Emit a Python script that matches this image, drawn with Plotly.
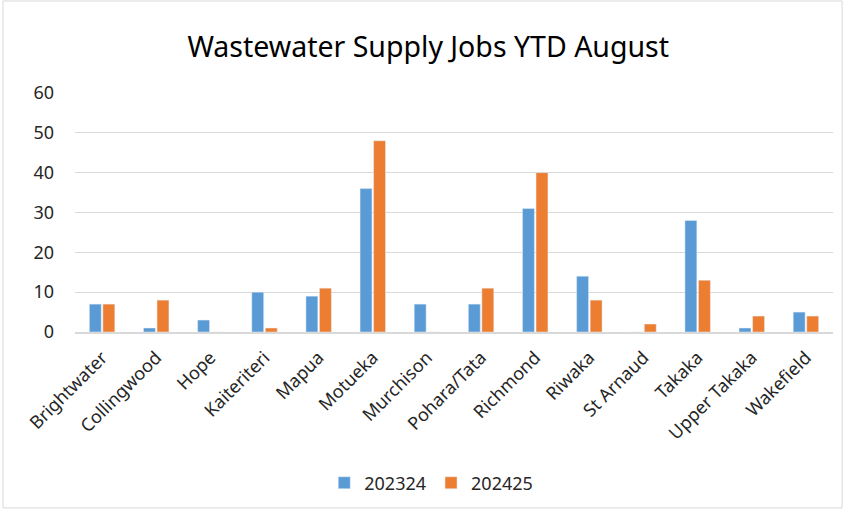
import plotly.graph_objects as go

towns = ["Brightwater", "Collingwood", "Hope", "Kaiteriteri", "Mapua", "Motueka",
         "Murchison", "Pohara/Tata", "Richmond", "Riwaka", "St Arnaud", "Takaka",
         "Upper Takaka", "Wakefield"]
jobs_202324 = [7, 1, 3, 10, 9, 36, 7, 7, 31, 14, 0, 28, 1, 5]
jobs_202425 = [7, 8, 0, 1, 11, 48, 0, 11, 40, 8, 2, 13, 4, 4]

font_family = "Noto Sans, Liberation Sans, sans-serif"

fig = go.Figure()
fig.add_trace(go.Bar(x=towns, y=jobs_202324, name="202324", marker_color="#5b9bd5"))
fig.add_trace(go.Bar(x=towns, y=jobs_202425, name="202425", marker_color="#ed7d31"))

fig.update_layout(
    width=848, height=515,
    margin=dict(l=75, r=15, t=93, b=183),
    paper_bgcolor="white", plot_bgcolor="white",
    font=dict(family=font_family, color="#262626", size=18),
    title=dict(text="Wastewater Supply Jobs YTD August", x=0.505, xanchor="center",
               y=1 - 47 / 515, yanchor="middle",
               font=dict(size=28.5, color="#000000", family=font_family)),
    barmode="group", bargap=0.5, bargroupgap=0.12,
    legend=dict(orientation="h", x=0.47, xanchor="center", y=-0.632, yanchor="middle",
                font=dict(size=18, color="#262626")),
    shapes=[dict(type="rect", xref="paper", yref="paper",
                 x0=-0.095, x1=1.012, y0=-0.736, y1=1.385,
                 line=dict(color="#d9d9d9", width=1), layer="below")],
)
fig.update_yaxes(range=[0, 60], dtick=10, showgrid=True, gridcolor="#d9d9d9",
                 gridwidth=1, zeroline=False, showline=False, ticks="",
                 tickfont=dict(size=18), ticklabelstandoff=20)
fig.update_xaxes(tickangle=-45, showline=True, linecolor="#d9d9d9", linewidth=2,
                 ticks="", tickfont=dict(size=18), ticklabelstandoff=6)

# page has a default body margin; remove it so the figure sits at 0,0
fig.write_html("out.html", config={"displayModeBar": False},
               post_script="document.body.style.margin='0';")
